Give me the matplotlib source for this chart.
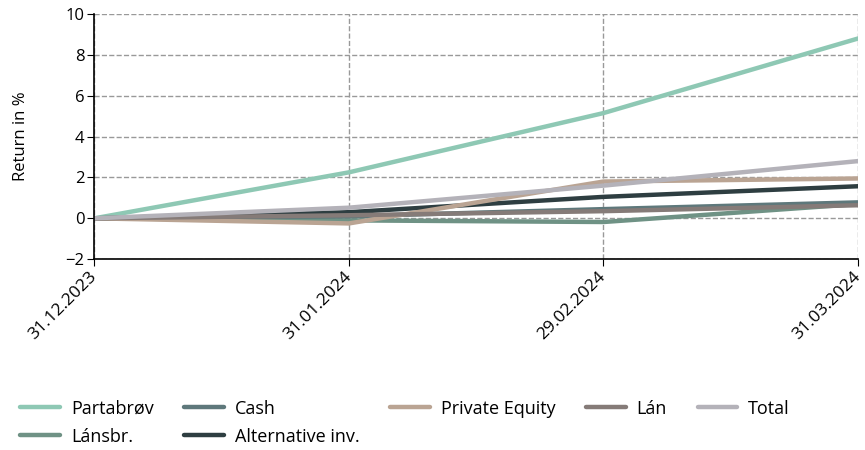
import matplotlib
matplotlib.use("Agg")
import matplotlib.pyplot as plt

plt.rcParams['font.family'] = ['Open Sans', 'DejaVu Sans']

dates = ["31.12.2023", "31.01.2024", "29.02.2024", "31.03.2024"]
series_names = ["Partabrøv", "Lánsbr.", "Cash", "Alternative inv.", "Private Equity", "Lán", "Total"]
partabrov = [0, 2.25, 5.15, 8.8]
lansbr = [0, -0.1, -0.18, 0.7]
cash = [0, 0.1, 0.45, 0.78]
alternative = [0, 0.3, 1.05, 1.57]
private_equity = [0, -0.25, 1.8, 1.95]
lan = [0, 0.15, 0.35, 0.64]
total = [0, 0.52, 1.6, 2.8]
colors = ["#8ec8b4", "#6f9285", "#5e787b", "#2e3e41", "#baa493", "#857b78", "#b4b2b9"]

values = [partabrov, lansbr, cash, alternative, private_equity, lan, total]

fig = plt.figure(figsize=(8.65, 4.5), dpi=100)
ax = fig.add_axes([0.109, 0.424, 0.883, 0.545])

x = list(range(len(dates)))
for name, v, c in zip(series_names, values, colors):
    ax.plot(x, v, color=c, lw=3.2, label=name, solid_capstyle='round')

ax.set_xlim(0, 3)
ax.set_ylim(-2, 10)
ax.set_yticks(range(-2, 11, 2))
ax.set_xticks(x)
ax.set_xticklabels(dates, rotation=45, ha='right', va='center', rotation_mode='anchor', fontsize=12.5)
ax.tick_params(axis='y', labelsize=12, length=5, pad=2)
ax.tick_params(axis='x', length=5, pad=6)
ax.grid(True, linestyle='--', color='#999999', lw=1)
ax.set_axisbelow(True)
for s in ['top', 'right']:
    ax.spines[s].set_visible(False)
ax.spines['left'].set_linewidth(1.2)
ax.spines['bottom'].set_linewidth(1.2)
ax.set_ylabel("Return in %", fontsize=12)
ax.yaxis.set_label_coords(-0.085, 0.5)

fig.legend(loc='upper left', bbox_to_anchor=(0.015, 0.128), ncol=5, frameon=False,
           fontsize=13, handlelength=2.2, handletextpad=0.6, columnspacing=1.7,
           labelspacing=0.55, borderaxespad=0)

fig.savefig("out.png", dpi=100)
